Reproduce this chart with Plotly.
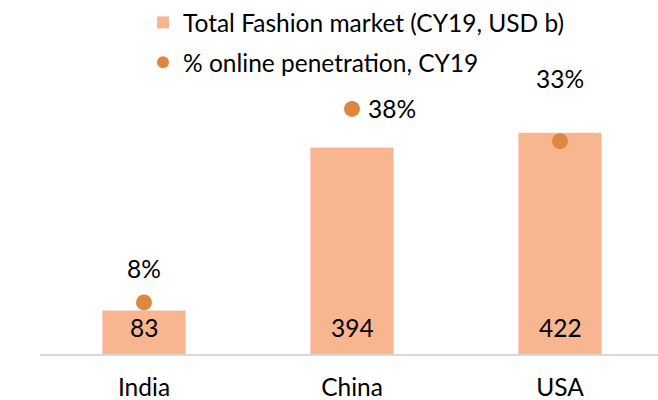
import plotly.graph_objects as go

categories = ["India", "China", "USA"]
market_usd_b = [83, 394, 422]
online_pct = [8, 38, 33]
bar_name = "Total Fashion market (CY19, USD b)"
dot_name = "% online penetration, CY19"

FONT = "Lato"
FS = 24.5
BAR_COLOR = "#F8B690"
DOT_COLOR = "#DE8640"

fig = go.Figure()
fig.add_trace(go.Bar(
    x=categories, y=market_usd_b, name=bar_name,
    marker=dict(color=BAR_COLOR, line=dict(width=0)),
    width=0.4, legendgroup="a", hoverinfo="skip",
))
fig.add_trace(go.Scatter(
    x=categories, y=online_pct, name=dot_name, yaxis="y2",
    mode="markers", marker=dict(color=DOT_COLOR, size=16),
    legendgroup="b", hoverinfo="skip",
))

# bar value labels near the bar base
for c, v in zip(categories, market_usd_b):
    fig.add_annotation(
        x=c, y=0, xref="x", yref="y", text=str(v), showarrow=False,
        yanchor="middle", yshift=27,
        font=dict(family=FONT, size=FS, color="#000000"),
    )

# percentage labels
label_shift = {"India": (0, 34), "China": (40, 0), "USA": (0, 63)}
for c, v in zip(categories, online_pct):
    dx, dy = label_shift[c]
    fig.add_annotation(
        x=c, y=v, xref="x", yref="y2", text=f"{v}%", showarrow=False,
        xshift=dx, yshift=dy, font=dict(family=FONT, size=FS, color="#000000"),
    )

fig.update_layout(
    width=658, height=400,
    margin=dict(l=40, r=0, t=90, b=46, autoexpand=False),
    paper_bgcolor="white", plot_bgcolor="white",
    font=dict(family=FONT, size=FS, color="#000000"),
    showlegend=True,
    legend=dict(
        xref="container", yref="container",
        x=143 / 658, xanchor="left", y=1.0, yanchor="top",
        orientation="v", traceorder="grouped", tracegroupgap=5,
        font=dict(family=FONT, size=FS, color="#000000"),
        itemsizing="constant", bgcolor="rgba(0,0,0,0)",
    ),
    xaxis=dict(
        type="category", range=[-0.5, 2.5 - 6 / 208],
        showline=True, linecolor="#D9D9D9", linewidth=1.5,
        showgrid=False, ticks="outside", ticklen=11, tickcolor="rgba(0,0,0,0)",
        tickfont=dict(family=FONT, size=FS, color="#000000"),
        fixedrange=True, automargin=False,
    ),
    yaxis=dict(range=[0, 264 / 0.524], visible=False, showgrid=False, fixedrange=True),
    yaxis2=dict(range=[0, 264 / 6.45], overlaying="y", side="right",
                visible=False, showgrid=False, fixedrange=True),
    bargap=0.6,
)

fig.write_html(
    "out.html",
    config={"displayModeBar": False},
    post_script="document.body.style.margin='0';document.body.style.overflow='hidden';",
)
